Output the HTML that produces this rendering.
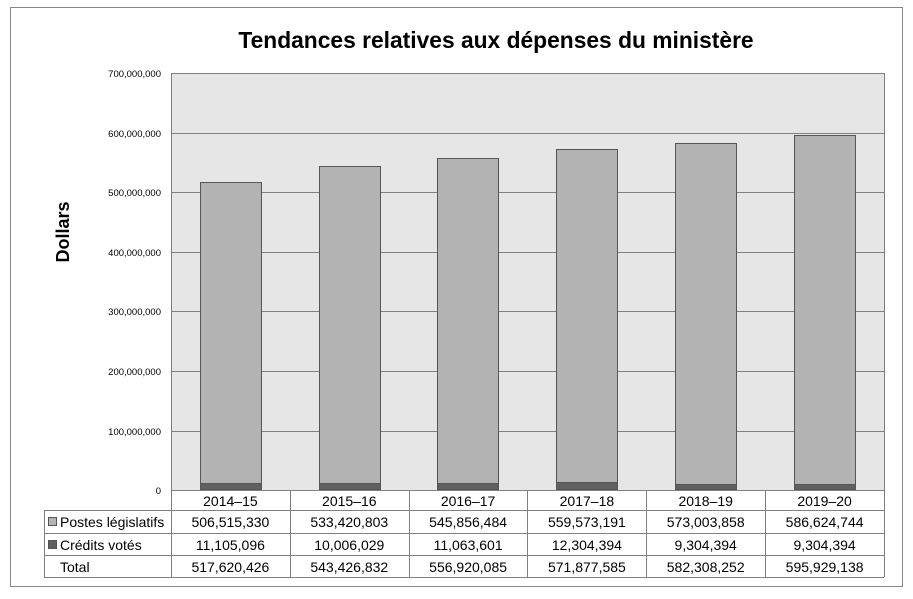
<!DOCTYPE html>
<html><head><meta charset="utf-8"><style>
body{margin:0;background:#fff}
svg text{font-family:"Liberation Sans",Arial,sans-serif}
</style></head><body>
<svg width="913" height="594" xmlns="http://www.w3.org/2000/svg">
<rect x="10.5" y="7.5" width="892" height="579" fill="#fff" stroke="#888"/>
<text x="496" y="48" font-size="22.8" font-weight="bold" text-anchor="middle" fill="#000">Tendances relatives aux dépenses du ministère</text>
<text x="69" y="232" font-size="18" font-weight="bold" text-anchor="middle" transform="rotate(-90 69 232)">Dollars</text>
<rect x="171" y="73" width="713" height="417" fill="#e6e6e6"/>
<g stroke="#808080" stroke-width="1">
<line x1="171" y1="73.5" x2="884" y2="73.5"/>
<line x1="171" y1="133.5" x2="884" y2="133.5"/>
<line x1="171" y1="192.5" x2="884" y2="192.5"/>
<line x1="171" y1="252.5" x2="884" y2="252.5"/>
<line x1="171" y1="311.5" x2="884" y2="311.5"/>
<line x1="171" y1="371.5" x2="884" y2="371.5"/>
<line x1="171" y1="431.5" x2="884" y2="431.5"/>
<line x1="171.5" y1="73" x2="171.5" y2="490"/>
<line x1="884.5" y1="73" x2="884.5" y2="490"/>
</g>
<g font-size="9.5" text-anchor="end" fill="#000">
<text x="161" y="77">700,000,000</text>
<text x="161" y="137">600,000,000</text>
<text x="161" y="196">500,000,000</text>
<text x="161" y="256">400,000,000</text>
<text x="161" y="315">300,000,000</text>
<text x="161" y="375">200,000,000</text>
<text x="161" y="435">100,000,000</text>
<text x="161" y="494">0</text>
</g>
<g stroke="#555" stroke-width="1">
<rect x="200.5" y="182.5" width="61" height="307" fill="#b3b3b3"/><rect x="200.5" y="483.5" width="61" height="6" fill="#606060"/>
<rect x="319.5" y="166.5" width="61" height="323" fill="#b3b3b3"/><rect x="319.5" y="483.5" width="61" height="6" fill="#606060"/>
<rect x="437.5" y="158.5" width="61" height="331" fill="#b3b3b3"/><rect x="437.5" y="483.5" width="61" height="6" fill="#606060"/>
<rect x="556.5" y="149.5" width="61" height="340" fill="#b3b3b3"/><rect x="556.5" y="482.5" width="61" height="7" fill="#606060"/>
<rect x="675.5" y="143.5" width="61" height="346" fill="#b3b3b3"/><rect x="675.5" y="484.5" width="61" height="5" fill="#606060"/>
<rect x="794.5" y="135.5" width="61" height="354" fill="#b3b3b3"/><rect x="794.5" y="484.5" width="61" height="5" fill="#606060"/>
</g>
<g stroke="#808080" stroke-width="1" fill="none">
<line x1="171" y1="490.5" x2="884" y2="490.5"/>
<line x1="44" y1="510.5" x2="884" y2="510.5"/>
<line x1="44" y1="533.5" x2="884" y2="533.5"/>
<line x1="44" y1="555.5" x2="884" y2="555.5"/>
<line x1="44" y1="577.5" x2="884" y2="577.5"/>
<line x1="44.5" y1="510" x2="44.5" y2="577"/>
<line x1="171.5" y1="490" x2="171.5" y2="577"/>
<line x1="290.5" y1="490" x2="290.5" y2="577"/>
<line x1="409.5" y1="490" x2="409.5" y2="577"/>
<line x1="527.5" y1="490" x2="527.5" y2="577"/>
<line x1="646.5" y1="490" x2="646.5" y2="577"/>
<line x1="765.5" y1="490" x2="765.5" y2="577"/>
<line x1="884.5" y1="490" x2="884.5" y2="577"/>
</g>
<rect x="48.5" y="517.5" width="8" height="8" fill="#b3b3b3" stroke="#555"/>
<rect x="48.5" y="540.5" width="8" height="8" fill="#606060" stroke="#555"/>
<g font-size="14" fill="#000">
<text x="60" y="527">Postes législatifs</text>
<text x="60" y="550">Crédits votés</text>
<text x="60" y="572">Total</text>
</g>
<g font-size="14" text-anchor="middle" fill="#000">
<text x="230.4" y="506">2014–15</text><text x="349.3" y="506">2015–16</text><text x="468.1" y="506">2016–17</text><text x="586.9" y="506">2017–18</text><text x="705.7" y="506">2018–19</text><text x="824.6" y="506">2019–20</text>
<text x="230.4" y="527">506,515,330</text><text x="349.3" y="527">533,420,803</text><text x="468.1" y="527">545,856,484</text><text x="586.9" y="527">559,573,191</text><text x="705.7" y="527">573,003,858</text><text x="824.6" y="527">586,624,744</text>
<text x="230.4" y="550">11,105,096</text><text x="349.3" y="550">10,006,029</text><text x="468.1" y="550">11,063,601</text><text x="586.9" y="550">12,304,394</text><text x="705.7" y="550">9,304,394</text><text x="824.6" y="550">9,304,394</text>
<text x="230.4" y="572">517,620,426</text><text x="349.3" y="572">543,426,832</text><text x="468.1" y="572">556,920,085</text><text x="586.9" y="572">571,877,585</text><text x="705.7" y="572">582,308,252</text><text x="824.6" y="572">595,929,138</text>
</g>
</svg>
</body></html>
